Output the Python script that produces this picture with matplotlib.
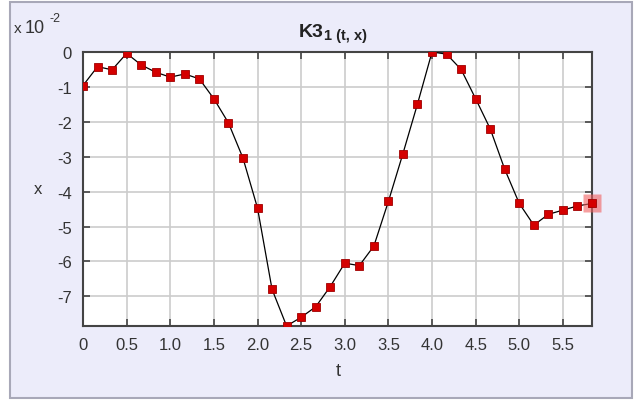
import numpy as np
import matplotlib.pyplot as plt
from matplotlib.patches import Rectangle

plt.rcParams['font.family'] = ['Liberation Sans', 'DejaVu Sans']

# time samples (step 1/6) and x values in units of 1e-2
t = np.arange(36) / 6.0
x = [-0.96, -0.42, -0.51, -0.04, -0.37, -0.58, -0.72, -0.63, -0.77, -1.34,
     -2.03, -3.04, -4.47, -6.80, -7.85, -7.60, -7.30, -6.72, -6.05, -6.12,
     -5.56, -4.28, -2.91, -1.49, 0.0, -0.06, -0.50, -1.34, -2.20, -3.36,
     -4.34, -4.96, -4.65, -4.53, -4.41, -4.34]
xticks = [0, 0.5, 1.0, 1.5, 2.0, 2.5, 3.0, 3.5, 4.0, 4.5, 5.0, 5.5]
xtick_labels = ['0', '0.5', '1.0', '1.5', '2.0', '2.5', '3.0', '3.5', '4.0', '4.5', '5.0', '5.5']
yticks = [0, -1, -2, -3, -4, -5, -6, -7]

bg = '#ececfa'
fig = plt.figure(figsize=(6.37, 4.02), dpi=100, facecolor='white')
fig.patches.append(Rectangle((10/637, 3/402), 622/637, 396/402, transform=fig.transFigure,
                             facecolor=bg, edgecolor='#a8a8b8', lw=1.5, zorder=-5))

ax = fig.add_axes([83/637, 1-327/402, (592-83)/637, (327-53)/402])
ax.set_zorder(2)
ax.set_facecolor('white')
ax.plot(t, x, color='black', lw=0.9, zorder=3)
ax.plot(t, x, ls='none', marker='s', ms=6, mfc='#d40000', mec='#a00000', mew=0.6, zorder=4)
ax.plot(t[-1:], x[-1:], ls='none', marker='s', ms=13, mfc='#f06060', mec='none', alpha=0.6,
        zorder=5, clip_on=False)
ax.plot(t[-1:], x[-1:], ls='none', marker='s', ms=6, mfc='#d40000', mec='#a00000', mew=0.6,
        zorder=6, clip_on=False)

ax.set_xlim(0, 35/6)
ax.set_ylim(-7.85, 0)
ax.set_xticks(xticks)
ax.set_xticklabels(xtick_labels)
ax.set_yticks(yticks)
ax.set_yticklabels([str(v) for v in yticks])
ax.grid(True, color='#cccccc', lw=1.2)
ax.set_axisbelow(True)
ax.tick_params(direction='in', length=5, width=1.2, color='#444444', labelsize=12,
               labelcolor='#333333', top=True, right=True, pad=8)
for s in ax.spines.values():
    s.set_color('#444444')
    s.set_linewidth(1.5)

fig.text(338/637, 1-372/402, 't', fontsize=13, color='#333333', ha='center', va='center')
fig.text(38/637, 1-190/402, 'x', fontsize=12, color='#333333', ha='center', va='center')
fig.text(14/637, 1-33/402, 'x', fontsize=11, color='#333333', ha='left', va='baseline')
fig.text(25/637, 1-33/402, '10', fontsize=13, color='#333333', ha='left', va='baseline')
fig.text(49/637, 1-22/402, '-2', fontsize=9, color='#333333', ha='left', va='baseline')
fig.text(324/637, 1-37/402, 'K3', fontsize=14, fontweight='bold', color='#222222',
         ha='right', va='baseline')
fig.text(324/637, 1-40/402, '1 (t, x)', fontsize=10.5, fontweight='bold', color='#222222',
         ha='left', va='baseline')

fig.savefig('out.png', dpi=100, facecolor=fig.get_facecolor())
